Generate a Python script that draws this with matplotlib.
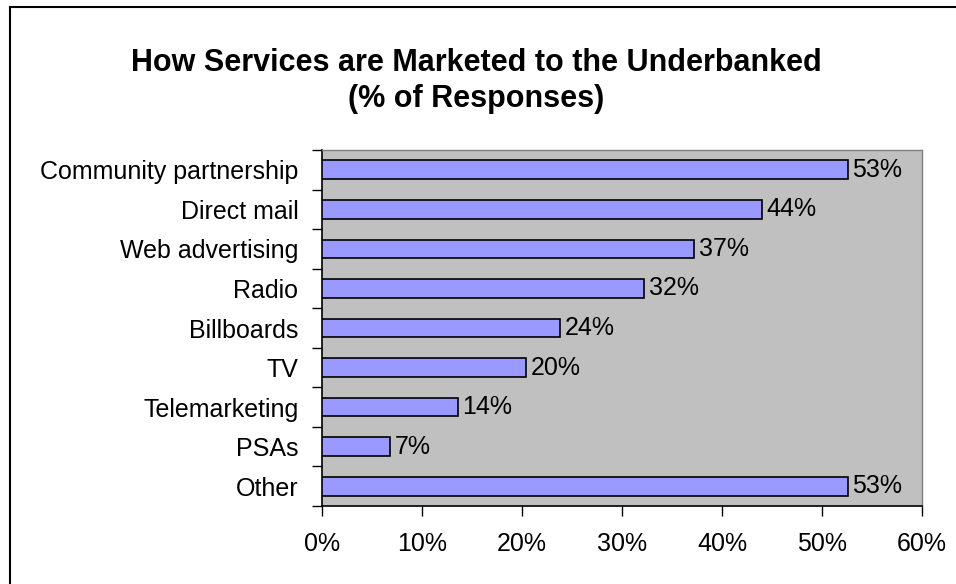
import matplotlib
matplotlib.use("Agg")
import matplotlib.pyplot as plt
from matplotlib.lines import Line2D
from matplotlib.ticker import FixedLocator, FuncFormatter

plt.rcParams['font.family'] = ['Liberation Sans', 'DejaVu Sans']

categories = ["Community partnership", "Direct mail", "Web advertising", "Radio",
              "Billboards", "TV", "Telemarketing", "PSAs", "Other"]
shares = [52.6, 44.0, 37.2, 32.2, 23.8, 20.4, 13.6, 6.8, 52.6]
x_ticks = [0, 10, 20, 30, 40, 50, 60]
title = "How Services are Marketed to the Underbanked\n(% of Responses)"

W, H = 956, 584
fig = plt.figure(figsize=(W / 100, H / 100), dpi=100)
fig.patch.set_facecolor("white")

# outer chart frame (left and top edges)
fig.add_artist(Line2D([9.5 / W, 9.5 / W], [0, 1 - 6.5 / H], transform=fig.transFigure,
                      color="black", lw=1.5))
fig.add_artist(Line2D([9.5 / W, 1], [1 - 6.5 / H, 1 - 6.5 / H], transform=fig.transFigure,
                      color="black", lw=1.5))

fig.text(0.498, 1 - 81 / H, title, ha="center", va="center", fontsize=22,
         fontweight="bold", linespacing=1.26)

left, right, top, bottom = 322, 922, 150, 506
ax = fig.add_axes([left / W, 1 - bottom / H, (right - left) / W, (bottom - top) / H])
ax.set_facecolor("#C0C0C0")

fs = 18
ypos = list(range(len(categories)))
ax.barh(ypos, shares, height=0.47, color="#9999FF", edgecolor="black", linewidth=1.2,
        zorder=3)
for y, v in zip(ypos, shares):
    ax.text(v + 0.45, y, f"{round(v):d}%", va="center", ha="left", fontsize=fs, zorder=4)

ax.set_xlim(x_ticks[0], x_ticks[-1])
ax.set_ylim(len(categories) - 0.5, -0.5)

ax.xaxis.set_major_locator(FixedLocator(x_ticks))
ax.xaxis.set_major_formatter(FuncFormatter(lambda v, p: f"{int(v)}%"))
ax.tick_params(axis="x", direction="out", length=7, width=1, pad=12, labelsize=fs)

ax.set_yticks(ypos)
ax.set_yticklabels(categories)
ax.tick_params(axis="y", which="major", length=0, pad=17, labelsize=fs)
ax.yaxis.set_minor_locator(FixedLocator([i - 0.5 for i in range(len(categories) + 1)]))
ax.tick_params(axis="y", which="minor", direction="out", length=7, width=1)

for side in ("left", "bottom"):
    ax.spines[side].set_color("black")
    ax.spines[side].set_linewidth(1.2)
for side in ("top", "right"):
    ax.spines[side].set_color("#808080")
    ax.spines[side].set_linewidth(1.0)

fig.savefig("out.png", dpi=100)
